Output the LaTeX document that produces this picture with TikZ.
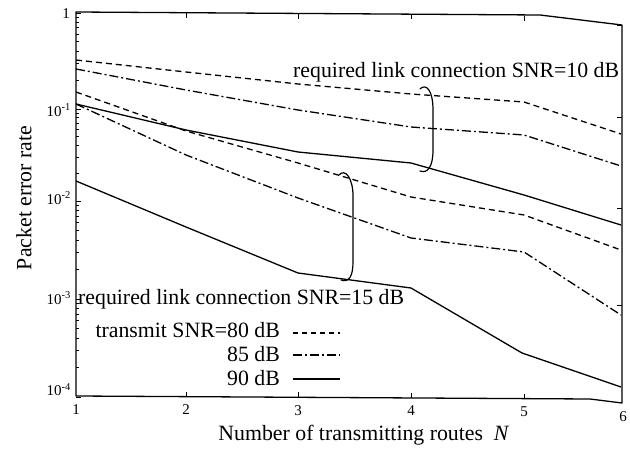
\documentclass[tikz,border=0pt]{standalone}
\usepackage{fontspec}
\setmainfont{Liberation Serif}
\begin{document}
\begin{tikzpicture}[x=1pt,y=-1pt,
  curve/.style={line width=1.3pt, line join=round},
  c80/.style={curve, dash pattern=on 6pt off 4pt},
  c85/.style={curve, dash pattern=on 9pt off 3pt on 2pt off 3pt},
  c90/.style={curve},
  lbl/.style={font=\fontsize{21.8}{24}\selectfont, inner sep=0pt},
  tlbl/.style={font=\fontsize{15}{16}\selectfont, inner sep=0pt},
  frame/.style={line width=1.3pt, line join=round},
  tick/.style={line width=0.9pt},
  brace/.style={line width=1.2pt, line cap=round}]
\useasboundingbox (0,0) rectangle (630,449);

% frame (slightly warped as in the scan)
\draw[frame] (76,12) -- (540,15) -- (622,25) -- (622,403) -- (590,399) -- (76,396) -- cycle;

% major ticks left / right
\foreach \yy in {13,109,201,299,397} {
  \draw[tick] (76,\yy) -- ++(5,0);
}
\foreach \yy in {25,117,208,305} {
  \draw[tick] (622,\yy) -- ++(-5,0);
}
% minor ticks left
\foreach \yt/\yb in {13/109,109/201,201/299,299/397} {
  \foreach \m in {2,...,9} {
    \pgfmathsetmacro\yy{\yb-log10(\m)*(\yb-\yt)}
    \draw[tick] (76,\yy) -- ++(3,0);
  }
}
% x ticks
\foreach \xx/\yt/\yb in {186/13/397,298/14/397,411/14/398,524/16/399} {
  \draw[tick] (\xx,\yt) -- ++(0,5);
  \draw[tick] (\xx,\yb) -- ++(0,-5);
}

% tick labels
\node[tlbl] (x1) at (76,410) {1};
\node[tlbl] (x2) at (186,410) {2};
\node[tlbl] (x3) at (298,411) {3};
\node[tlbl] (x4) at (411,411) {4};
\node[tlbl] (x5) at (524,412) {5};
\node[tlbl] (x6) at (623,417) {6};
\node[tlbl, anchor=east] (y0) at (70,14) {1};
\node[tlbl, anchor=east] (y1) at (71,110) {10\textsuperscript{-1}};
\node[tlbl, anchor=east] (y2) at (71,198) {10\textsuperscript{-2}};
\node[tlbl, anchor=east] (y3) at (71,298) {10\textsuperscript{-3}};
\node[tlbl, anchor=east] (y4) at (71,390) {10\textsuperscript{-4}};

% axis titles
\node[lbl] (ytitle) at (24,198) [rotate=90] {Packet error rate};
\node[lbl, anchor=base] (xtitle) at (364,440) {Number of transmitting routes\ \ \textit{N}};

% curves: required link connection SNR = 10 dB
\draw[c80] (76,60) -- (186,72) -- (298,84) -- (411,94) -- (524,102) -- (621,134);
\draw[c85] (76,69) -- (186,90) -- (298,110) -- (411,127) -- (524,135) -- (621,166);
\draw[c90] (76,104) -- (186,130) -- (298,152) -- (411,163) -- (524,195) -- (621,225);

% curves: required link connection SNR = 15 dB
\draw[c80] (76,92) -- (186,131) -- (298,163) -- (411,197) -- (524,215) -- (621,250);
\draw[c85] (76,104) -- (186,155) -- (298,198) -- (411,238) -- (524,252) -- (621,315);
\draw[c90] (76,181) -- (186,227) -- (298,273) -- (411,288) -- (522,353) -- (621,387);

% braces
\draw[brace] (420,89) .. controls (426,83) and (433,90) .. (433,110)
  -- (433,150) .. controls (433,166) and (428,174) .. (420,171);
\draw[brace] (339,175) .. controls (345,168) and (353,178) .. (353,196)
  -- (353,262) .. controls (353,276) and (349,283) .. (341,280);

% labels
\node[lbl, anchor=base west] (l10) at (293,78) {required link connection SNR=10 dB};
\node[lbl, anchor=base west] (l15) at (78,305) {required link connection SNR=15 dB};

% legend
\node[lbl, anchor=base east] (t80) at (280,338) {transmit SNR=80 dB};
\node[lbl, anchor=base east] (t85) at (280,362) {85 dB};
\node[lbl, anchor=base east] (t90) at (280,386) {90 dB};
\coordinate (s80a) at (293,333); \coordinate (s80b) at (340,333);
\coordinate (s85a) at (293,355); \coordinate (s85b) at (340,355);
\coordinate (s90a) at (293,379); \coordinate (s90b) at (340,379);
\draw[c80, dash pattern=on 5pt off 4pt] (s80a) -- (s80b);
\draw[c85] (s85a) -- (s85b);
\draw[c90] (s90a) -- (s90b);
\end{tikzpicture}
\end{document}
